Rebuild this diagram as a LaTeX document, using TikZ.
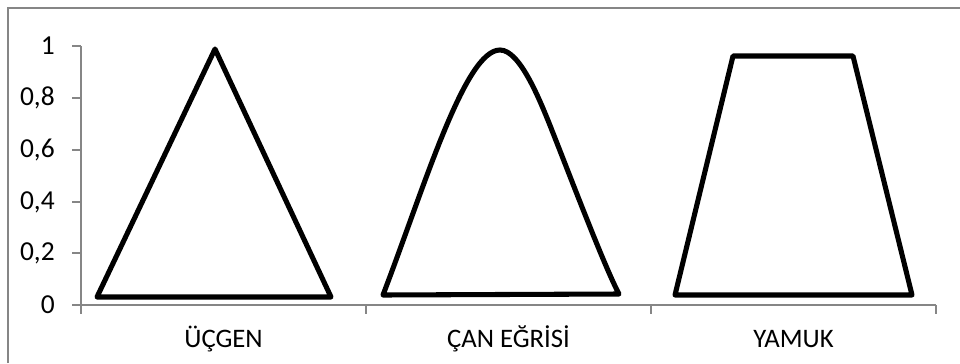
\documentclass[tikz,border=0pt]{standalone}
\usepackage{fontspec}
\setmainfont{Carlito}
\usepackage{tikz}
\usetikzlibrary{positioning}
\definecolor{axisgray}{RGB}{134,134,134}
\tikzset{
	axisline/.style={draw=axisgray, line width=1.4pt},
	shapeline/.style={draw=black, line width=3.6pt, line join=round},
	ylab/.style={anchor=east, inner sep=0pt, font=\fontsize{19.5}{21}\selectfont},
	xlab/.style={anchor=base, inner sep=0pt, font=\fontsize{19}{21}\selectfont},
}

\begin{document}
\begin{tikzpicture}[x=0.025cm, y=-0.025cm]
		\useasboundingbox (0, 0) rectangle (960, 363);
		% Frame and axes:
		\draw[axisline] (8, 363) -- (8, 8) -- (960, 8);
		\coordinate (O) at (81, 305);
		\coordinate (E) at (936, 305);
		\draw[axisline] (81, 46) -- (O) -- (E);
		\draw[axisline] (72, 46) -- (81, 46);
		\draw[axisline] (72, 98) -- (81, 98);
		\draw[axisline] (72, 150) -- (81, 150);
		\draw[axisline] (72, 202) -- (81, 202);
		\draw[axisline] (72, 253) -- (81, 253);
		\draw[axisline] (72, 305) -- (81, 305);
		\draw[axisline] (O) -- ++(0, 9);
		\draw[axisline] (366, 305) -- ++(0, 9);
		\draw[axisline] (651, 305) -- ++(0, 9);
		\draw[axisline] (E) -- ++(0, 9);
		% Tick labels:
		\node[ylab](N1) at (55, 46){1};
		\node[ylab](N2) at (55, 98){0,8};
		\node[ylab](N3) at (55, 150){0,6};
		\node[ylab](N4) at (55, 202){0,4};
		\node[ylab](N5) at (55, 253){0,2};
		\node[ylab](N6) at (55, 305){0};
		\node[xlab](N7) at (223.5, 347){ÜÇGEN};
		\node[xlab](N8) at (508.5, 347){ÇAN EĞRİSİ};
		\node[xlab](N9) at (793.5, 347){YAMUK};
		% Shapes:
		\draw[shapeline] (97, 297) -- (215, 49) -- (331, 297) -- cycle;
		\draw[shapeline] (383, 295) .. controls (425, 185) and (465, 50) .. (500, 50)
			.. controls (520, 50) and (540, 100) .. (553, 133)
			.. controls (570, 176) and (605, 268) .. (619, 294) -- cycle;
		\draw[shapeline] (675, 295) -- (733, 56) -- (853, 56) -- (912, 295) -- cycle;
	\end{tikzpicture}
\end{document}
